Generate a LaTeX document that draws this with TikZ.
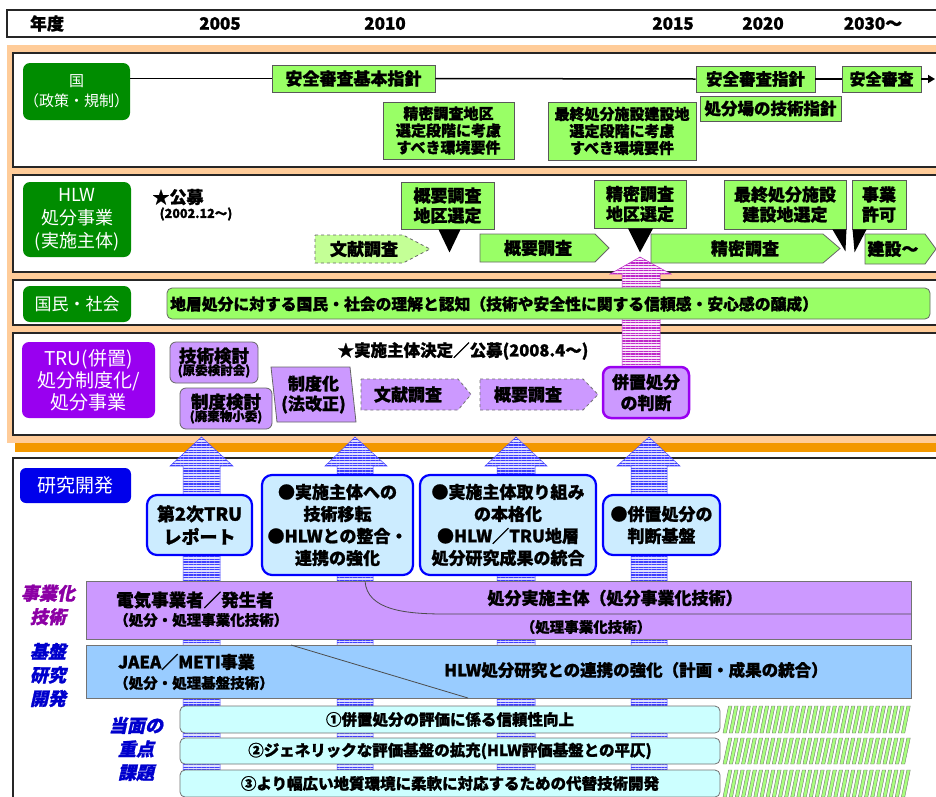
\documentclass[tikz,border=0pt]{standalone}
\usepackage{fontspec}
\setmainfont{Noto Sans CJK JP}[BoldFeatures={FakeBold=1.2}]
\newfontfamily\jpsl{Noto Sans CJK JP}[FakeSlant=0.22,BoldFeatures={FakeBold=1.2}]
\usetikzlibrary{patterns.meta,arrows.meta}
\definecolor{lgreen}{RGB}{153,255,102}
\definecolor{pgreen}{RGB}{196,255,150}
\definecolor{dgreen}{RGB}{0,140,0}
\definecolor{vpurple}{RGB}{153,0,240}
\definecolor{lpurple}{RGB}{204,153,255}
\definecolor{lblue}{RGB}{153,204,255}
\definecolor{lcyan}{RGB}{204,255,255}
\definecolor{boxblue}{RGB}{204,236,255}
\definecolor{peach}{RGB}{255,204,153}
\definecolor{dorange}{RGB}{243,152,0}
\definecolor{pinkm}{RGB}{190,40,200}
\definecolor{jgblue}{RGB}{0,0,235}
\definecolor{itpurple}{RGB}{140,0,165}
\definecolor{itblue}{RGB}{0,0,205}
\newcommand\fsz[2]{\fontsize{#1}{#2}\selectfont}
\newcommand\bigup[8]{% sl sr hl hr cx tipy basey bottom
  \draw[bluearr] (#1,#8) -- (#1,#7) -- (#3,#7) -- (#5,#6) -- (#4,#7) -- (#2,#7) -- (#2,#8) -- cycle;}
\tikzset{
  panel/.style={draw=black!85, line width=1.6pt, fill=white},
  lab/.style={rounded corners=7pt, text=white, align=center, inner sep=0pt},
  gbox/.style={draw=black!65, line width=0.9pt, fill=lgreen, align=center, inner sep=0pt, font=\bfseries},
  pbox/.style={draw=black!60, line width=0.8pt, fill=lpurple, align=center, inner sep=0pt, rounded corners=6pt},
  rbox/.style={draw=blue, line width=2.2pt, fill=boxblue, align=center, inner sep=0pt, rounded corners=10pt, font=\bfseries\fsz{17}{22}},
  cbar/.style={draw=black!55, line width=0.8pt, fill=lcyan, align=center, inner sep=0pt, rounded corners=5pt, font=\bfseries\fsz{15.5}{18}},
  garr/.style={draw=black!60, line width=0.8pt, fill=lgreen},
  dgarr/.style={draw=black!60, line width=0.8pt, fill=pgreen, dashed},
  dparr/.style={draw=black!55, line width=0.8pt, fill=lpurple, dashed},
  txt/.style={inner sep=0pt, align=center, font=\bfseries},
  yr/.style={inner sep=0pt, font=\bfseries\fsz{17}{20}},
  bluearr/.style={draw=blue!70, line width=0.5pt, fill=blue!12,
    postaction={pattern={Lines[angle=0,distance=2.6pt,line width=1.1pt]}, pattern color=blue!75}},
  pinkarr/.style={draw=pinkm, line width=0.5pt, fill=pinkm!10,
    postaction={pattern={Lines[angle=0,distance=2.6pt,line width=1.1pt]}, pattern color=pinkm}},
  stripe/.style={draw=black!55, line width=0.4pt, fill=lgreen!85},
  itlab/.style={inner sep=0pt, align=center, font=\jpsl\bfseries\fsz{18}{23.5}},
}
\begin{document}
\begin{tikzpicture}[x=1pt,y=-1pt]
\useasboundingbox (0,0) rectangle (936,796);
\fill[white] (0,0) rectangle (936,796);
% year header
\draw[line width=1.6pt, draw=black!85] (7,10) rectangle (950,37);
\node[yr] (yh) at (47,23.5) {年度};
\node[yr] (y05) at (220,23.5) {2005};
\node[yr] (y10) at (385,23.5) {2010};
\node[yr] (y15) at (673,23.5) {2015};
\node[yr] (y20) at (763,23.5) {2020};
\node[yr] (y30) at (873,23.5) {2030～};
% orange frame and panels
\fill[dorange] (15,52) rectangle (950,452);
\fill[peach] (7,45) rectangle (950,443);
\draw[panel] (13,53) rectangle (950,167);
\draw[panel] (13,175) rectangle (950,272);
\draw[panel] (13,280) rectangle (950,325);
\draw[panel] (13,333) rectangle (950,435);
\draw[panel] (13,458) rectangle (950,815);
% pink arrow
\draw[pinkarr] (622,367) -- (622,274) -- (610,274) -- (640,257) -- (671,274) -- (660,274) -- (660,367) -- cycle;
% blue arrows
\bigup{183}{220}{170}{233}{201.5}{437}{466}{800}
\bigup{337}{373}{325}{387}{355}{437}{466}{800}
\bigup{497}{535}{485}{547}{516}{437}{466}{800}
\bigup{631}{667}{617}{680}{649}{437}{466}{800}

% ---- row 1: government
\node[lab, fill=dgreen, minimum width=107pt, minimum height=57pt, font=\fsz{15}{20}] (kuni) at (76.5,91.5) {国\\（政策・規制）};
\node[gbox, minimum width=163pt, minimum height=27pt, font=\bfseries\fsz{17}{20}] (a1) at (353.5,78.5) {安全審査基本指針};
\node[gbox, minimum width=119pt, minimum height=26pt, font=\bfseries\fsz{16.5}{20}] (a2) at (755.5,79) {安全審査指針};
\node[gbox, minimum width=79pt, minimum height=26pt, font=\bfseries\fsz{16}{20}] (a3) at (881.5,79) {安全審査};
\node[gbox, minimum width=141pt, minimum height=25pt, font=\bfseries\fsz{16.5}{20}] (a4) at (770.5,108.5) {処分場の技術指針};
\node[gbox, minimum width=131pt, minimum height=57pt, font=\bfseries\fsz{15}{17}] (a5) at (448.5,130.5) {精密調査地区\\選定段階に考慮\\すべき環境要件};
\node[gbox, minimum width=148pt, minimum height=58pt, font=\bfseries\fsz{15}{17}] (a6) at (622,131) {最終処分施設建設地\\選定段階に考慮\\すべき環境要件};
\coordinate (kend) at (935,79);
\draw[line width=1.5pt] (kuni.east |- a1.west) -- (a1.west);
\draw[line width=1.5pt] (a1.east) -- (a2.west);
\draw[line width=1.5pt] (a2.east) -- (a3.west);
\draw[line width=1.5pt, -{Triangle[length=7pt,width=8pt]}] (a3.east) -- (kend);

% ---- row 2: HLW
\node[lab, fill=dgreen, minimum width=108pt, minimum height=75pt, font=\fsz{18}{23}] (hlw) at (77,219.5) {HLW\\処分事業\\(実施主体)};
\node[txt, font=\bfseries\fsz{17}{20}] (kobo) at (178,197) {★公募};
\node[txt, font=\bfseries\fsz{12.5}{14}] (kobod) at (196,214) {(2002.12～)};
\draw[dgarr] (315,235) -- (403,235) -- (430,249) -- (403,263) -- (315,263) -- cycle;
\node[txt, font=\bfseries\fsz{17}{20}] (h1) at (364,249) {文献調査};
\draw[garr] (480,234) -- (595,234) -- (609,248) -- (595,262) -- (480,262) -- cycle;
\node[txt, font=\bfseries\fsz{17}{20}] (h2) at (538,248) {概要調査};
\draw[garr] (651,234) -- (823,234) -- (840,248.5) -- (823,263) -- (651,263) -- cycle;
\node[txt, font=\bfseries\fsz{17}{20}] (h3) at (745,248.5) {精密調査};
\draw[garr] (865,234) -- (925,234) -- (936,249) -- (925,264) -- (865,264) -- cycle;
\node[txt, font=\bfseries\fsz{17}{20}] (h4) at (893,249) {建設～};
\node[gbox, minimum width=93pt, minimum height=47pt, font=\bfseries\fsz{17}{20}] (c1) at (447.5,205.5) {概要調査\\地区選定};
\node[gbox, minimum width=92pt, minimum height=48pt, font=\bfseries\fsz{17}{20}] (c2) at (640,204) {精密調査\\地区選定};
\node[gbox, minimum width=122pt, minimum height=49pt, font=\bfseries\fsz{17}{20}] (c3) at (785,204.5) {最終処分施設\\建設地選定};
\node[gbox, minimum width=54pt, minimum height=49pt, font=\bfseries\fsz{17}{20}] (c4) at (879,204.5) {事業\\許可};
\fill[black] (c1.south) ++(-9,0) -- ++(22,0) -- ++(-11,23) -- cycle;
\fill[black] (c2.south) ++(-12,0) -- ++(25,0) -- ++(-13,24) -- cycle;
\fill[black] (c3.south east) ++(-14,0) -- ++(14,0) -- ++(-1,22) -- cycle;
\fill[black] (c4.south west) ++(1,0) -- ++(14,0) -- ++(-12,23) -- cycle;

% ---- row 3: public
\node[lab, fill=dgreen, minimum width=108pt, minimum height=36pt, font=\fsz{17}{20}] (kokumin) at (77,304) {国民・社会};
\node[draw=black!60, line width=0.8pt, fill=lgreen, rounded corners=5pt, minimum width=763pt, minimum height=31pt, inner sep=0pt] (pub) at (548.5,303.5) {};
\node[txt, anchor=west, font=\bfseries\fsz{15.8}{18}] (pubt) at (170,304) {地層処分に対する国民・社会の理解と認知（技術や安全性に関する信頼感・安心感の醸成）};

% ---- row 4: TRU
\node[lab, fill=vpurple, minimum width=133pt, minimum height=76pt, font=\fsz{19}{22}] (tru) at (88.5,380) {TRU(併置)\\処分制度化/\\処分事業};
\node[pbox, minimum width=88pt, minimum height=41pt] (t1) at (214,362.5) {{\bfseries\fsz{17.5}{20}技術検討}\\[-1pt]{\bfseries\fsz{12.5}{14}(原委検討会)}};
\node[pbox, minimum width=92pt, minimum height=41pt] (t2) at (226,408.5) {{\bfseries\fsz{17.5}{20}制度検討}\\[-1pt]{\bfseries\fsz{12.5}{14}(廃棄物小委)}};
\draw[draw=black!60, line width=0.8pt, fill=lpurple] (271,367) -- (350,367) -- (356,422) -- (277,422) -- cycle;
\node[txt, font=\bfseries\fsz{17}{20}] (t3) at (313.5,394.5) {制度化\\(法改正)};
\node[txt, font=\bfseries\fsz{16.5}{20}] (jisshu) at (463,351) {★実施主体決定／公募(2008.4～)};
\draw[dparr] (361,379) -- (458,379) -- (471,394.5) -- (458,410) -- (361,410) -- cycle;
\node[txt, font=\bfseries\fsz{17}{20}] (t4) at (408,394.5) {文献調査};
\draw[dparr] (480,379) -- (583,379) -- (598,394.5) -- (583,410) -- (480,410) -- cycle;
\node[txt, font=\bfseries\fsz{17}{20}] (t5) at (528,394.5) {概要調査};
\node[draw=vpurple, line width=2.5pt, fill=lpurple, rounded corners=8pt, minimum width=86pt, minimum height=51pt, inner sep=0pt, align=center, font=\bfseries\fsz{17}{21}] (t6) at (646,392.5) {併置処分\\の判断};

% ---- research
\node[lab, fill=jgblue, minimum width=111pt, minimum height=35pt, rounded corners=6pt, font=\fsz{19}{22}] (kenkyu) at (75.5,485.5) {研究開発};
\node[rbox, minimum width=105pt, minimum height=60pt, font=\bfseries\fsz{18}{23}] (r1) at (199.5,525) {第2次TRU\\レポート};
\node[rbox, minimum width=151pt, minimum height=100pt] (r2) at (337.5,525) {●実施主体への\\技術移転\\●HLWとの整合・\\連携の強化};
\node[rbox, minimum width=176pt, minimum height=100pt] (r3) at (508,525) {●実施主体取り組み\\の本格化\\●HLW／TRU地層\\処分研究成果の統合};
\node[rbox, minimum width=117pt, minimum height=60pt] (r4) at (661.5,525) {●併置処分の\\判断基盤};

% business band
\node[draw=black!55, line width=0.8pt, fill=lpurple, minimum width=825pt, minimum height=58pt, inner sep=0pt] (jigyo) at (498.5,610) {};
\draw[black!70, line width=0.8pt] (365,581) .. controls (367,610) and (405,614) .. (445,614) -- (911,614);
\node[txt, anchor=west, font=\bfseries\fsz{17.5}{20}] (jg1) at (116,600) {電気事業者／発生者};
\node[txt, anchor=west, font=\bfseries\fsz{14.5}{17}] (jg2) at (114,620) {（処分・処理事業化技術）};
\node[txt, font=\bfseries\fsz{17}{20}] (jg3) at (615,598) {処分実施主体（処分事業化技術）};
\node[txt, font=\bfseries\fsz{14.5}{17}] (jg4) at (586,627) {（処理事業化技術）};
% base band
\node[draw=black!55, line width=0.8pt, fill=lblue, minimum width=825pt, minimum height=53pt, inner sep=0pt] (kiban) at (498.5,671.5) {};
\draw[black!70, line width=0.8pt] (291,645) -- (468,698);
\node[txt, anchor=west, font=\bfseries\fsz{17}{20}] (kb1) at (118,662) {JAEA／METI事業};
\node[txt, anchor=west, font=\bfseries\fsz{14.5}{17}] (kb2) at (114,683) {（処分・処理基盤技術）};
\node[txt, font=\bfseries\fsz{16.5}{20}] (kb3) at (636,670) {HLW処分研究との連携の強化（計画・成果の統合）};
% priority bars
\node[cbar, minimum width=540pt, minimum height=27pt] (p1) at (450,719.5) {①併置処分の評価に係る信頼性向上};
\node[cbar, minimum width=540pt, minimum height=26pt] (p2) at (450,751) {②ジェネリックな評価基盤の拡充(HLW評価基盤との平仄)};
\node[cbar, minimum width=540pt, minimum height=27pt] (p3) at (450,783.5) {③より幅広い地質環境に柔軟に対応するための代替技術開発};
\foreach \ya/\yb in {706/733, 738/764, 770/797}{
  \foreach \i in {0,...,29}{
    \draw[stripe] ({723+\i*6.15},\yb) -- ++(3.4,0) -- ({723+\i*6.15+3.4+5.5},\ya) -- ++(-3.4,0) -- cycle;
  }
}
% italic side labels
\node[itlab, text=itpurple] (il1) at (48,605) {事業化\\技術};
\node[itlab, text=itblue] (il2) at (48,675) {基盤\\研究\\開発};
\node[itlab, text=itblue] (il3) at (136,749) {当面の\\重点\\課題};
\end{tikzpicture}
\end{document}
